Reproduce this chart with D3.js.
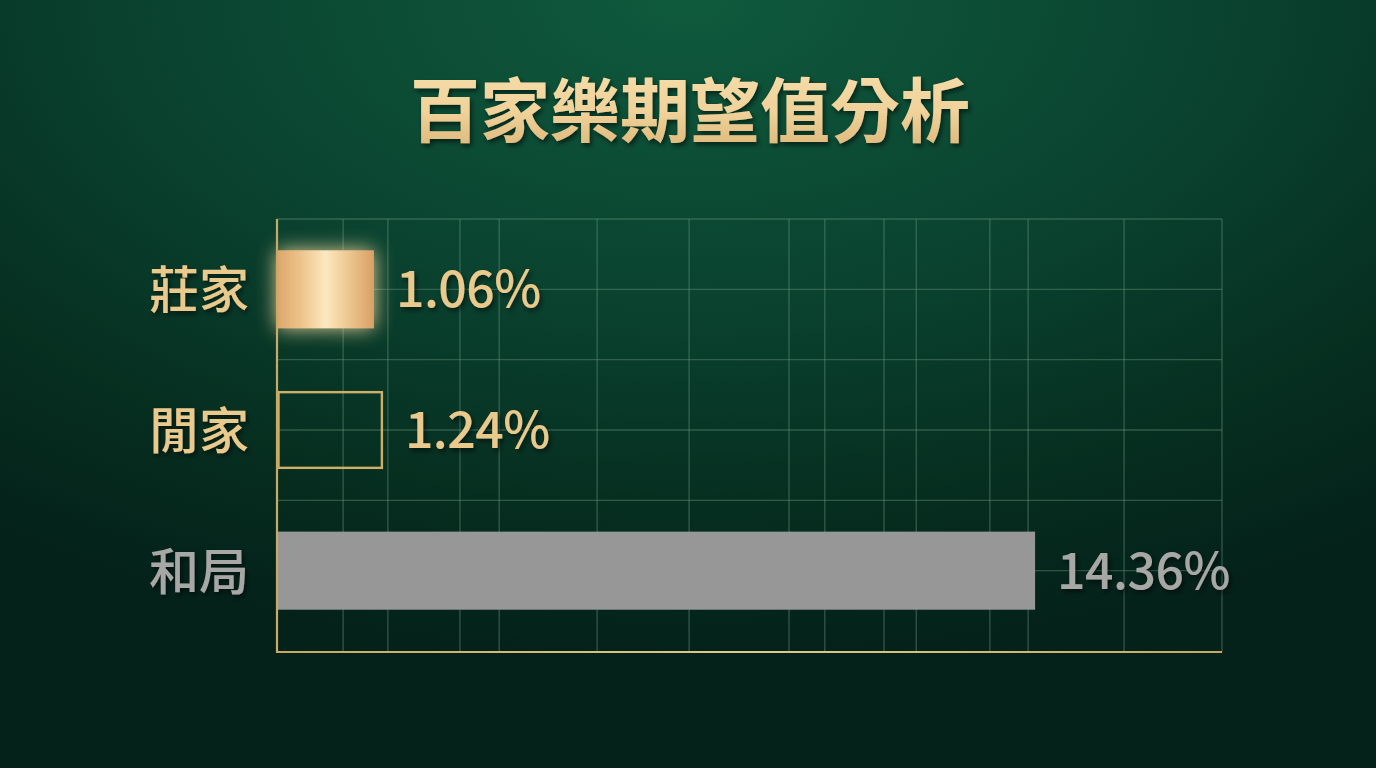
<!DOCTYPE html>
<html>
<head>
<meta charset="utf-8">
<script src="https://cdn.jsdelivr.net/npm/d3@7/dist/d3.min.js"></script>
<style>
  html, body { margin: 0; padding: 0; background: #062b1d; }
  svg { display: block; }
</style>
</head>
<body>
<svg id="chart" width="1376" height="768"></svg>
<script>
// ---- data ----
const title = "百家樂期望值分析";
const categories = ["莊家", "閒家", "和局"];
const values = [1.06, 1.24, 14.36];
const valueLabels = ["1.06%", "1.24%", "14.36%"];
// irregular vertical grid lines, in data units
const gridValues = [0.44, 1.34, 2.79, 3.58, 5.55, 7.40, 9.41, 10.13, 11.32, 11.97, 13.45, 14.22, 16.15, 18.12];
const xDomain = [-0.89, 18.12];

// ---- layout / style ----
const W = 1376, H = 768;
const plot = { left: 277, right: 1222, top: 219, bandBottom: 641, bottom: 652 };
const GOLD = "#e9c98c", GRAY = "#a7a8a6";
const barKind = ["gold", "outline", "gray"];

const svg = d3.select("#chart");
const defs = svg.append("defs");

// background gradient
const bg = defs.append("radialGradient").attr("id", "bg")
  .attr("cx", "50%").attr("cy", "0%").attr("r", "85%")
  .attr("fx", "50%").attr("fy", "0%");
bg.append("stop").attr("offset", "0%").attr("stop-color", "#0f5a3d");
bg.append("stop").attr("offset", "45%").attr("stop-color", "#0a4330");
bg.append("stop").attr("offset", "80%").attr("stop-color", "#062d1f");
bg.append("stop").attr("offset", "100%").attr("stop-color", "#04221a");

// gold bar gradient
const gg = defs.append("linearGradient").attr("id", "goldBar")
  .attr("x1", "0%").attr("x2", "100%").attr("y1", "0%").attr("y2", "0%");
[["0%", "#dca66b"], ["25%", "#eec48c"], ["50%", "#fbe8bf"], ["62%", "#f5d8a6"], ["100%", "#daa065"]]
  .forEach(([o, c]) => gg.append("stop").attr("offset", o).attr("stop-color", c));

// title gradient
const tg = defs.append("linearGradient").attr("id", "titleGrad")
  .attr("x1", "0%").attr("x2", "0%").attr("y1", "0%").attr("y2", "100%");
[["0%", "#f7e0ae"], ["55%", "#f0d29a"], ["100%", "#d9b273"]]
  .forEach(([o, c]) => tg.append("stop").attr("offset", o).attr("stop-color", c));

// axis gradient (user space so it works on a zero-height line)
const ag = defs.append("linearGradient").attr("id", "axisGrad")
  .attr("gradientUnits", "userSpaceOnUse")
  .attr("x1", plot.left).attr("x2", plot.right).attr("y1", 0).attr("y2", 0);
[["0%", "#c9a860"], ["50%", "#e2c98a"], ["100%", "#c9a860"]]
  .forEach(([o, c]) => ag.append("stop").attr("offset", o).attr("stop-color", c));

// filters
const glow = defs.append("filter").attr("id", "glow")
  .attr("x", "-60%").attr("y", "-60%").attr("width", "220%").attr("height", "220%");
glow.append("feGaussianBlur").attr("stdDeviation", 10);

const shadow = defs.append("filter").attr("id", "shadow")
  .attr("x", "-20%").attr("y", "-20%").attr("width", "140%").attr("height", "160%");
shadow.append("feDropShadow").attr("dx", 2).attr("dy", 3).attr("stdDeviation", 2.5)
  .attr("flood-color", "#000").attr("flood-opacity", 0.55);

svg.append("rect").attr("width", W).attr("height", H).attr("fill", "url(#bg)");

// ---- scales ----
const x = d3.scaleLinear().domain(xDomain).range([plot.left, plot.right]);
const y = d3.scaleBand().domain(categories)
  .range([plot.top, plot.bandBottom])
  .paddingInner(0.445).paddingOuter(0.2225);
const step = y.step();

// ---- grid ----
const grid = svg.append("g").attr("stroke", "#6f9a82").attr("stroke-opacity", 0.4).attr("stroke-width", 1.4);
gridValues.forEach(v => {
  grid.append("line").attr("x1", x(v)).attr("x2", x(v)).attr("y1", plot.top).attr("y2", plot.bottom);
});
const hLines = [];
categories.forEach((c, i) => {
  hLines.push(plot.top + step * i);              // boundaries
  hLines.push(y(c) + y.bandwidth() / 2);          // band centres
});
hLines.forEach(yy => {
  grid.append("line").attr("x1", plot.left).attr("x2", plot.right).attr("y1", yy).attr("y2", yy);
});

// ---- bars ----
const bars = svg.append("g");
categories.forEach((c, i) => {
  const kind = barKind[i];
  const x0 = x(xDomain[0]);
  const w = x(values[i]) - x0;
  const by = y(c), bh = y.bandwidth();
  if (kind === "gold") {
    bars.append("rect").attr("x", x0).attr("y", by).attr("width", w).attr("height", bh)
      .attr("fill", "#f3d79e").attr("opacity", 0.95).attr("filter", "url(#glow)");
    bars.append("rect").attr("x", x0).attr("y", by).attr("width", w).attr("height", bh)
      .attr("fill", "url(#goldBar)");
  } else if (kind === "outline") {
    bars.append("rect").attr("x", x0 + 1.5).attr("y", by + 1.2).attr("width", w - 2.5).attr("height", bh - 2.4)
      .attr("fill", "none").attr("stroke", "#cfae68").attr("stroke-width", 2.4);
  } else {
    bars.append("rect").attr("x", x0).attr("y", by).attr("width", w).attr("height", bh)
      .attr("fill", "#979797");
  }
});

// ---- axes (gold) ----
const axisG = svg.append("g");
axisG.append("line").attr("x1", plot.left).attr("x2", plot.left)
  .attr("y1", plot.top).attr("y2", plot.bottom + 1)
  .attr("stroke", "#caa964").attr("stroke-width", 2.2);
axisG.append("line").attr("x1", plot.left).attr("x2", plot.right)
  .attr("y1", plot.bottom).attr("y2", plot.bottom)
  .attr("stroke", "url(#axisGrad)").attr("stroke-width", 2.2);

// ---- category labels ----
const fontCJK = "'Noto Sans CJK TC', 'Noto Sans CJK SC', 'Noto Sans', sans-serif";
svg.append("g").selectAll("text").data(categories).join("text")
  .attr("x", 249)
  .attr("y", d => y(d) + y.bandwidth() / 2 + 19)
  .attr("text-anchor", "end")
  .attr("font-family", fontCJK)
  .attr("font-size", 50)
  .attr("font-weight", 500)
  .attr("fill", (d, i) => barKind[i] === "gray" ? GRAY : GOLD)
  .attr("filter", "url(#shadow)")
  .text(d => d);

// ---- value labels ----
svg.append("g").selectAll("text").data(categories).join("text")
  .attr("x", (d, i) => x(values[i]) + 22)
  .attr("y", d => y(d) + y.bandwidth() / 2 + 18)
  .attr("font-family", fontCJK)
  .attr("font-size", 50)
  .attr("font-weight", 500)
  .attr("letter-spacing", -0.5)
  .attr("fill", (d, i) => barKind[i] === "gray" ? GRAY : GOLD)
  .attr("filter", "url(#shadow)")
  .text((d, i) => valueLabels[i]);

// ---- title ----
svg.append("text")
  .attr("x", 690).attr("y", 137)
  .attr("text-anchor", "middle")
  .attr("font-family", fontCJK)
  .attr("font-size", 70)
  .attr("font-weight", 700)
  .attr("fill", "url(#titleGrad)")
  .attr("filter", "url(#shadow)")
  .text(title);
</script>
</body>
</html>
